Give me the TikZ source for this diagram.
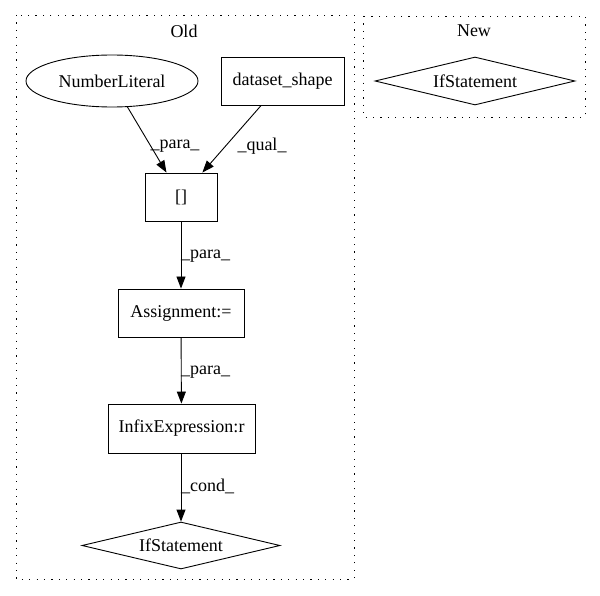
\documentclass[tikz,border=0pt]{standalone}
\usepackage{fontspec}
\setmainfont{Liberation Serif}
\usetikzlibrary{shapes.geometric,arrows.meta}
\begin{document}
\begin{tikzpicture}[x=1pt,y=-1pt,
  every node/.style={font=\fontsize{18}{20}\selectfont},
  box/.style={draw,line width=0.9pt,rectangle,inner sep=0pt},
  oval/.style={draw,line width=0.9pt,ellipse,inner sep=0pt},
  dia/.style={draw,line width=0.9pt,diamond,inner sep=0pt,aspect=4.2},
  cluster/.style={draw,line width=0.9pt,dash pattern=on 1.2pt off 6.2pt},
  edge/.style={draw,line width=0.9pt,-{Triangle[length=12pt,width=9pt]}},
  elabel/.style={inner sep=0pt}
]
\useasboundingbox (0,0) rectangle (600,596);
% clusters
\draw[cluster] (16,15) rectangle (354,579);
\draw[cluster] (363,16) rectangle (585,117);
\node (oldlbl) at (184,31) {Old};
\node (newlbl) at (474,31) {New};
% nodes
\node[oval,minimum width=172pt,minimum height=52pt] (nl) at (112,81) {NumberLiteral};
\node[box,minimum width=123pt,minimum height=48pt] (ds) at (282.5,81) {dataset\_shape};
\node[box,minimum width=72pt,minimum height=48pt] (idx) at (181,197) {[]};
\node[box,minimum width=126pt,minimum height=48pt] (asg) at (181,313) {Assignment:=};
\node[box,minimum width=147pt,minimum height=49pt] (inf) at (181.5,428.5) {InfixExpression:r};
\node[dia,minimum width=198pt,minimum height=47pt] (ifo) at (181,545.5) {IfStatement};
\node[dia,minimum width=200pt,minimum height=48pt] (ifn) at (475,81) {IfStatement};
% edges
\draw[edge] (nl) -- (idx);
\draw[edge] (ds) -- (idx);
\draw[edge] (idx) -- (asg);
\draw[edge] (asg) -- (inf);
\draw[edge] (inf.south -| ifo.north) -- (ifo);
% edge labels
\node[elabel] (l1) at (175,146) {\_para\_};
\node[elabel] (l2) at (262,146) {\_qual\_};
\node[elabel,anchor=west] (l3) at (181,256) {\_para\_};
\node[elabel,anchor=west] (l4) at (181,372) {\_para\_};
\node[elabel,anchor=west] (l5) at (181,486) {\_cond\_};
\end{tikzpicture}
\end{document}
